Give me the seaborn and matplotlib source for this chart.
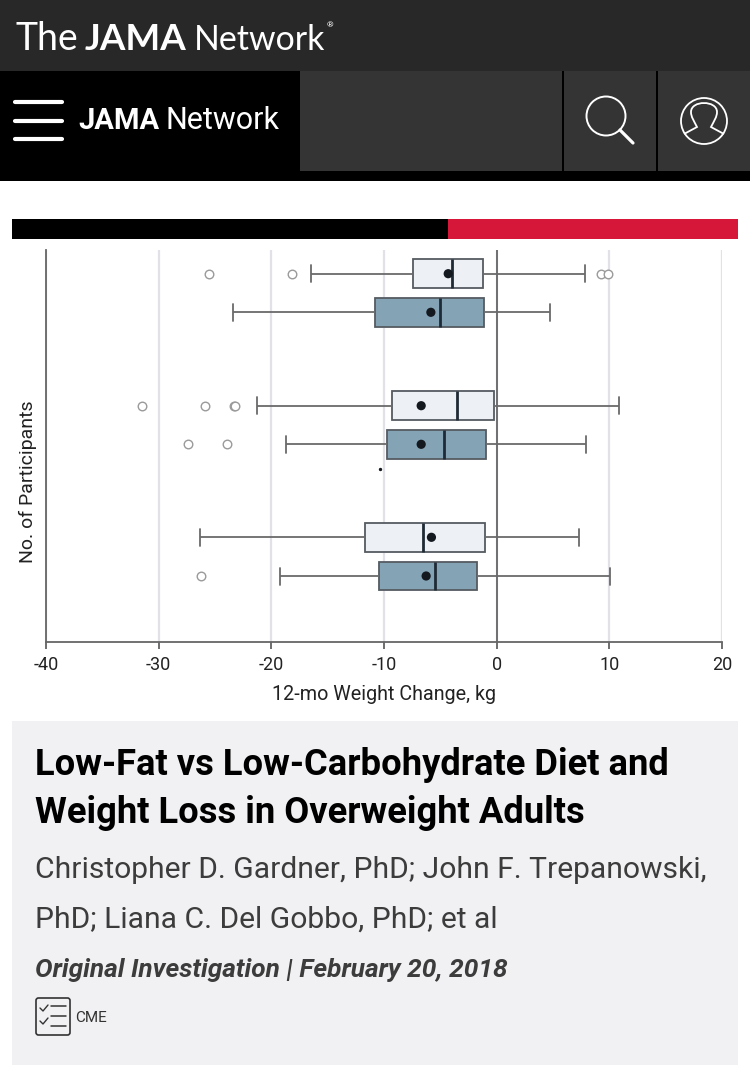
import matplotlib
matplotlib.use("Agg")
import numpy as np
import pandas as pd
import seaborn as sns
import matplotlib.pyplot as plt
from matplotlib.patches import Rectangle, Circle, FancyBboxPatch, PathPatch
from matplotlib.path import Path

# ---- data (kg) ----
diets = ["Low-fat", "Low-carb", "Low-fat", "Low-carb", "Low-fat", "Low-carb"]
whisker_low = [-16.5, -23.4, -21.3, -18.7, -26.35, -19.2]
q1 = [-7.47, -10.8, -9.25, -9.69, -11.67, -10.4]
median = [-4.0, -5.07, -3.5, -4.69, -6.5, -5.48]
q3 = [-1.2, -1.08, -0.28, -0.96, -1.02, -1.73]
whisker_high = [7.8, 4.69, 10.87, 7.9, 7.3, 10.07]
means = [-4.3, -5.84, -6.7, -6.7, -5.79, -6.26]
outliers = [
    [-25.5, -18.2, 9.27, 9.9],
    [],
    [-31.45, -25.9, -23.27, -23.22],
    [-27.4, -23.9],
    [],
    [-26.2],
]
x_ticks = [-40, -30, -20, -10, 0, 10, 20]
x_label = "12-mo Weight Change, kg"
y_label = "No. of Participants"
title_lines = ["Low-Fat vs Low-Carbohydrate Diet and", "Weight Loss in Overweight Adults"]
author_lines = ["Christopher D. Gardner, PhD; John F. Trepanowski,", "PhD; Liana C. Del Gobbo, PhD; et al"]
meta_line = "Original Investigation | February 20, 2018"

# ---- layout (pixels) ----
W, H = 750, 1081
row_px = [273.7, 312.3, 405.7, 444.3, 537.3, 576.0]
AX_L, AX_R, AX_T, AX_B = 46, 722, 250, 642
TEXT = "#222222"

sns.set_theme(style="white")
plt.rcParams["font.family"] = ["Roboto", "DejaVu Sans"]
plt.rcParams["axes.unicode_minus"] = False

fig = plt.figure(figsize=(W / 100, H / 100), dpi=100, facecolor="white")

# page furniture
bg = fig.add_axes([0, 0, 1, 1])
bg.set_xlim(0, W)
bg.set_ylim(H, 0)
bg.axis("off")


def rect(x0, y0, x1, y1, color):
    bg.add_patch(Rectangle((x0, y0), x1 - x0, y1 - y0, fc=color, ec="none"))


rect(0, 0, W, 71, "#282828")
rect(0, 71, W, 181, "#000000")
rect(300, 71, 562, 171, "#343434")
rect(564, 71, 656, 171, "#343434")
rect(658, 71, W, 171, "#343434")
rect(12, 219, 448, 239, "#000000")
rect(448, 219, 738, 239, "#D7173A")
rect(12, 721, 738, 1065, "#F1F1F3")

for y in (102, 120.5, 139):
    bg.plot([15, 62], [y, y], color="white", lw=3.0, solid_capstyle="round")

bg.add_patch(Circle((606, 116), 19.5, fc="none", ec="white", lw=1.4))
bg.plot([620, 633], [130, 143], color="white", lw=2.3)
bg.add_patch(Circle((704, 121), 23, fc="none", ec="white", lw=1.3))
bust = Path(
    [(684, 134), (697, 127), (694, 121), (691, 117), (691, 112), (691, 100), (717, 100),
     (717, 112), (717, 117), (714, 121), (711, 127), (724, 134)],
    [Path.MOVETO, Path.LINETO, Path.CURVE4, Path.CURVE4, Path.CURVE4, Path.CURVE4, Path.CURVE4,
     Path.CURVE4, Path.CURVE4, Path.CURVE4, Path.CURVE4, Path.LINETO],
)
bg.add_patch(PathPatch(bust, fc="none", ec="white", lw=1.3))

bg.text(16, 50, "The", color="white", fontsize=27, family="Lato", va="baseline")
bg.text(85, 50, "JAMA", color="white", fontsize=26.5, family="Lato", weight="bold", va="baseline")
bg.text(194, 50, "Network", color="white", fontsize=24.4, family="Lato", va="baseline")
bg.text(327, 27, "®", color="white", fontsize=6, va="baseline")
bg.text(78, 129, "JAMA", color="white", fontsize=21, weight="bold", va="baseline")
bg.text(166, 129, "Network", color="white", fontsize=22, va="baseline")

for text, y in zip(title_lines, (775, 823)):
    bg.text(35, y, text, color="#000000", fontsize=26.2, weight="bold", va="baseline")
for text, y in zip(author_lines, (878, 928)):
    bg.text(35, y, text, color="#3c3c3c", fontsize=21.6, va="baseline")
bg.text(35, 977, meta_line, color="#3c3c3c", fontsize=18.9, style="italic", weight="bold", va="baseline")

bg.add_patch(FancyBboxPatch((36, 998), 34, 37, boxstyle="round,pad=0,rounding_size=2.5", fc="none", ec="#333333", lw=1.2))
for y in (1006, 1016, 1026):
    bg.plot([51, 66], [y, y], color="#333333", lw=1.1)
for y in (1011, 1024):
    bg.plot([40, 43, 48], [y - 3, y, y - 6], color="#333333", lw=1.0)
bg.text(75, 1022, "CME", color="#333333", fontsize=11, va="baseline")

# chart
ax = fig.add_axes([AX_L / W, 1 - AX_B / H, (AX_R - AX_L) / W, (AX_B - AX_T) / H])
ax.patch.set_alpha(0)

records = []
for i, pos in enumerate(row_px):
    for value in (whisker_low[i], q1[i], median[i], q3[i], whisker_high[i]):
        records.append({"change": value, "row": pos, "diet": diets[i]})
boxes = pd.DataFrame(records)
mean_df = pd.DataFrame({"change": means, "row": row_px})
out_df = pd.DataFrame(
    [{"change": v, "row": row_px[i]} for i, vals in enumerate(outliers) for v in vals]
)

ax.grid(axis="x", color="#E2E1E8", lw=1.6)
ax.set_axisbelow(True)

sns.boxplot(
    data=boxes, x="change", y="row", hue="diet", orient="y", native_scale=True,
    palette={"Low-fat": "#EDF0F5", "Low-carb": "#84A4B6"}, saturation=1, dodge=False,
    width=0.74, gap=0, whis=(0, 100), fliersize=0, linecolor="#555B61", linewidth=1.3,
    legend=False, ax=ax, capwidths=17,
    medianprops={"color": "#1E2A35", "linewidth": 2.0},
    whiskerprops={"color": "#6A6A6A", "linewidth": 1.3},
    capprops={"color": "#6A6A6A", "linewidth": 1.3},
)
sns.scatterplot(data=out_df, x="change", y="row", s=38, facecolor="white", edgecolor="#9A9A9A", linewidth=1.0, ax=ax, zorder=4)
sns.scatterplot(data=mean_df, x="change", y="row", s=44, color="#14181F", edgecolor="none", ax=ax, zorder=5)

ax.set_xlim(x_ticks[0], x_ticks[-1])
ax.set_ylim(AX_B, AX_T)
ax.axvline(0, color="#6E6E70", lw=1.4, zorder=1)
ax.set_xticks(x_ticks)
ax.set_xticklabels([str(t) for t in x_ticks])
ax.set_yticks([])
ax.tick_params(axis="x", length=5, width=1.2, color="#555555", labelsize=13, labelcolor=TEXT, pad=5, bottom=True)
for side in ("top", "right"):
    ax.spines[side].set_visible(False)
for side in ("left", "bottom"):
    ax.spines[side].set_visible(True)
    ax.spines[side].set_color("#666666")
    ax.spines[side].set_linewidth(1.3)
ax.set_xlabel(x_label, fontsize=14.2, color=TEXT)
ax.xaxis.set_label_coords((384.5 - AX_L) / (AX_R - AX_L), -(685 - AX_B) / (AX_B - AX_T), transform=ax.transAxes)
ax.set_ylabel(y_label, fontsize=14, color=TEXT)
ax.yaxis.set_label_coords((37 - AX_L) / (AX_R - AX_L), (AX_B - 482) / (AX_B - AX_T))

# small print speck in the source image
ax.scatter([-10.35], [468.5], s=2, color="#14181F", zorder=5)

fig.savefig("out.png", dpi=100)
